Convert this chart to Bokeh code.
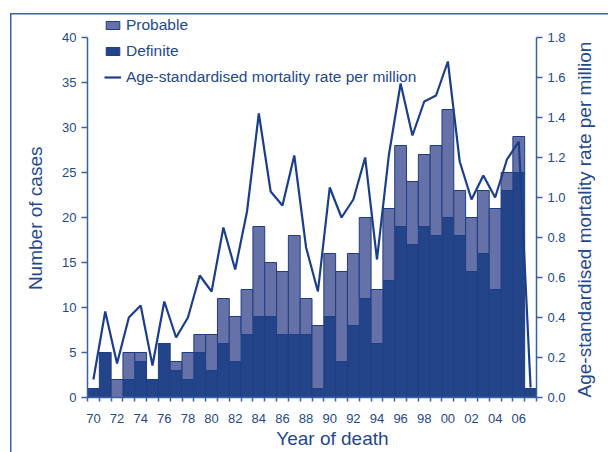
import math
from bokeh.plotting import figure
from bokeh.models import (Range1d, LinearAxis, FixedTicker, NumeralTickFormatter,
                          Legend, LegendItem, ColumnDataSource)
from bokeh.embed import file_html
from bokeh.resources import INLINE

years = [1970, 1971, 1972, 1973, 1974, 1975, 1976, 1977, 1978, 1979,
         1980, 1981, 1982, 1983, 1984, 1985, 1986, 1987, 1988, 1989,
         1990, 1991, 1992, 1993, 1994, 1995, 1996, 1997, 1998, 1999,
         2000, 2001, 2002, 2003, 2004, 2005, 2006, 2007]
definite = [1, 5, 0, 2, 4, 2, 6, 3, 2, 5,
            3, 6, 4, 7, 9, 9, 7, 7, 7, 1,
            9, 4, 8, 11, 6, 13, 19, 17, 19, 18,
            20, 18, 14, 16, 12, 23, 25, 1]
probable = [0, 0, 2, 3, 1, 0, 0, 1, 3, 2,
            4, 5, 5, 5, 10, 6, 7, 11, 4, 7,
            7, 10, 8, 9, 6, 8, 9, 7, 8, 10,
            12, 5, 6, 7, 9, 2, 4, 0]
rate = [0.09, 0.43, 0.17, 0.40, 0.46, 0.16, 0.48, 0.30, 0.40, 0.61,
        0.53, 0.85, 0.64, 0.93, 1.42, 1.03, 0.96, 1.21, 0.75, 0.53,
        1.05, 0.90, 0.99, 1.20, 0.69, 1.21, 1.57, 1.31, 1.48, 1.51,
        1.68, 1.18, 0.99, 1.11, 1.00, 1.19, 1.28, 0.05]

tick_years = [1970, 1972, 1974, 1976, 1978, 1980, 1982, 1984, 1986, 1988,
              1990, 1992, 1994, 1996, 1998, 2000, 2002, 2004, 2006]
tick_labels = ["70", "72", "74", "76", "78", "80", "82", "84", "86", "88",
               "90", "92", "94", "96", "98", "00", "02", "04", "06"]
case_ticks = [0, 5, 10, 15, 20, 25, 30, 35, 40]
rate_ticks = [0.0, 0.2, 0.4, 0.6, 0.8, 1.0, 1.2, 1.4, 1.6, 1.8]

x_title = "Year of death"
left_title = "Number of cases"
right_title = "Age-standardised mortality rate per million"

DARK = "#24448a"
LIGHT = "#6571a7"
EDGE = "#1d3d85"
LINE = "#1b3e8a"
AXIS = "#3a62a2"
TEXT = "#24488c"
FONT = "Liberation Sans"
TITLE_FS = "19px"

# ---- layout (pixels) ----
W, H = 608, 452
FRAME_LEFT, FRAME_RIGHT = 87, 538
FRAME_TOP, FRAME_BOTTOM = 14, 397      # frame reaches above the 40 tick so the legend is not clipped
AXIS_TOP = 37                           # where the 40 / 1.8 ticks sit
px_per_case = (FRAME_BOTTOM - AXIS_TOP) / case_ticks[-1]
y_top = case_ticks[-1] + (AXIS_TOP - FRAME_TOP) / px_per_case
rate_per_case = rate_ticks[-1] / case_ticks[-1]
x_lo, x_hi = years[0] - 0.5, years[-1] + 0.5
px_per_year = (FRAME_RIGHT - FRAME_LEFT) / (x_hi - x_lo)

def y_case(py):
    return (FRAME_BOTTOM - py) / px_per_case

# title anchors (pixels) -> data positions
left_title_top_px = 146      # left title reads upward, anchored at its top end
right_title_bottom_px = 397  # right title reads upward, anchored at its bottom end
x_title_center_px = 333

src = ColumnDataSource(dict(year=years, definite=definite, probable=probable, rate=rate))

p = figure(width=W, height=H, x_range=Range1d(x_lo, x_hi),
           y_range=Range1d(case_ticks[0], y_top),
           output_backend="svg", toolbar_location=None,
           min_border_left=FRAME_LEFT, min_border_right=W - FRAME_RIGHT,
           min_border_top=FRAME_TOP, min_border_bottom=H - FRAME_BOTTOM)
p.extra_y_ranges = {"rate": Range1d(rate_ticks[0], y_top * rate_per_case)}
p.styles = {"box-shadow": "inset 10px 13px 0 0 white, inset 11.5px 14.5px 0 0 #3a62a2"}

bars = p.vbar_stack(["definite", "probable"], x="year", width=1.0, source=src,
                    fill_color=[DARK, LIGHT], line_color=EDGE, line_width=1)
r_def, r_prob = bars
r_line = p.line(x="year", y="rate", source=src, y_range_name="rate",
                line_color=LINE, line_width=2.2)

p.xgrid.visible = False
p.ygrid.visible = False
p.outline_line_color = None
p.background_fill_color = None
p.border_fill_color = None

def style_labels(ax, size="13px"):
    ax.major_label_text_font = FONT
    ax.major_label_text_font_size = size
    ax.major_label_text_color = TEXT

def title_only(ax):
    ax.axis_line_color = None
    ax.major_tick_line_color = None
    ax.minor_tick_line_color = None
    ax.major_tick_out = 0
    ax.major_tick_in = 0
    style_labels(ax, TITLE_FS)

# x axis: ticks at bar edges, labels at bar centres
xa = p.xaxis[0]
edges = [y - 0.5 for y in years] + [years[-1] + 0.5]
xa.ticker = FixedTicker(ticks=tick_years, minor_ticks=edges)
xa.major_label_overrides = dict(zip(tick_years, tick_labels))
xa.major_tick_out = 4
xa.major_tick_in = 0
xa.major_tick_line_color = None
xa.minor_tick_out = 4
xa.minor_tick_in = 0
xa.minor_tick_line_color = AXIS
xa.minor_tick_line_width = 1.5
xa.axis_line_color = AXIS
xa.axis_line_width = 1.5
xa.major_label_standoff = 12
style_labels(xa)

# x title
xt_pos = x_lo + (x_title_center_px - FRAME_LEFT) / px_per_year
xt = LinearAxis(ticker=FixedTicker(ticks=[xt_pos]))
xt.major_label_overrides = {xt_pos: x_title}
title_only(xt)
xt.major_label_standoff = 2
p.add_layout(xt, "below")

# left axis
ya = p.yaxis[0]
ya.ticker = FixedTicker(ticks=case_ticks)
ya.bounds = (case_ticks[0], case_ticks[-1])
ya.major_tick_out = 6
ya.major_tick_in = 0
ya.minor_tick_line_color = None
ya.major_tick_line_color = AXIS
ya.major_tick_line_width = 1.5
ya.axis_line_color = AXIS
ya.axis_line_width = 1.5
ya.major_label_standoff = 5
style_labels(ya)

# left title (reads bottom to top)
lt_pos = y_case(left_title_top_px)
lt = LinearAxis(ticker=FixedTicker(ticks=[lt_pos]))
lt.major_label_overrides = {lt_pos: left_title}
lt.major_label_orientation = math.pi / 2
title_only(lt)
lt.major_label_standoff = 24
p.add_layout(lt, "left")

# right axis
ra = LinearAxis(y_range_name="rate", ticker=FixedTicker(ticks=rate_ticks),
                formatter=NumeralTickFormatter(format="0.0"),
                bounds=(rate_ticks[0], rate_ticks[-1]))
ra.major_tick_out = 6
ra.major_tick_in = 0
ra.minor_tick_line_color = None
ra.major_tick_line_color = AXIS
ra.major_tick_line_width = 1.5
ra.axis_line_color = AXIS
ra.axis_line_width = 1.5
ra.major_label_standoff = 5
style_labels(ra)
p.add_layout(ra, "right")

# right title (reads bottom to top, like the original)
rt_pos = y_case(right_title_bottom_px) * rate_per_case
rt = LinearAxis(y_range_name="rate", ticker=FixedTicker(ticks=[rt_pos]))
rt.major_label_overrides = {rt_pos: right_title}
rt.major_label_orientation = math.pi / 2
title_only(rt)
rt.major_label_standoff = 16
p.add_layout(rt, "right")

legend = Legend(items=[LegendItem(label="Probable", renderers=[r_prob]),
                       LegendItem(label="Definite", renderers=[r_def]),
                       LegendItem(label="Age-standardised mortality rate per million", renderers=[r_line])],
                location=(17, 310), orientation="vertical",
                background_fill_alpha=0, border_line_color=None,
                padding=0, margin=0, spacing=6, label_height=20,
                glyph_width=17, glyph_height=10, label_standoff=5,
                label_text_font=FONT, label_text_font_size="15.5px",
                label_text_color=TEXT)
p.add_layout(legend, "center")

open("out.html", "w").write(file_html(p, INLINE))
